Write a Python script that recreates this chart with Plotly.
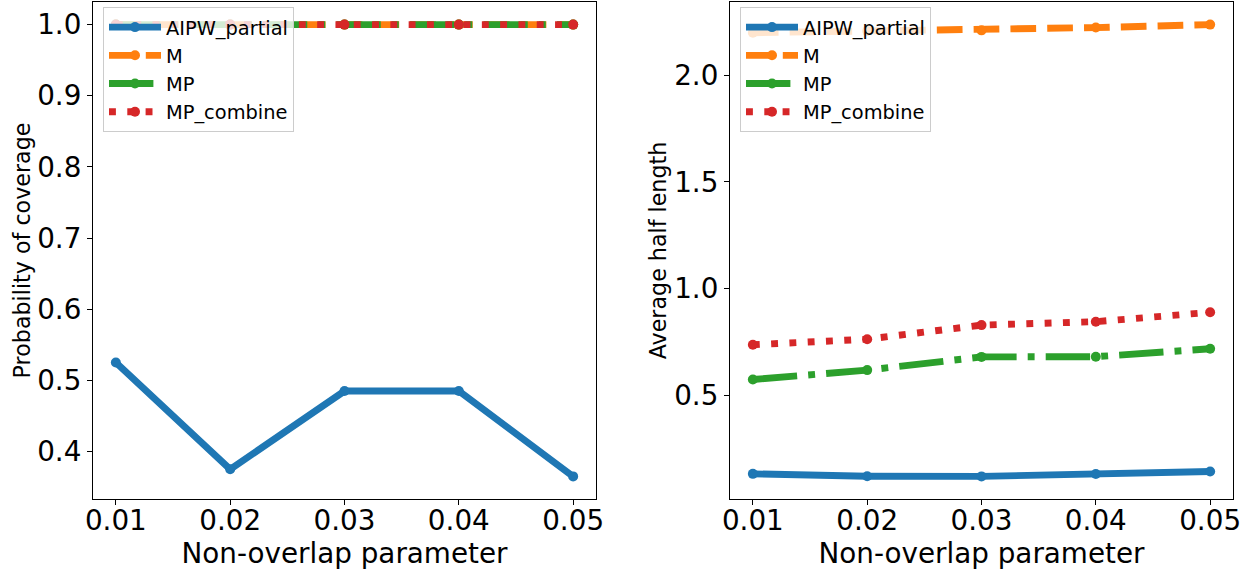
import plotly.graph_objects as go

# ---- data ----
x_vals = [0.01, 0.02, 0.03, 0.04, 0.05]
x_tick_labels = ["0.01", "0.02", "0.03", "0.04", "0.05"]
series_names = ["AIPW_partial", "M", "MP", "MP_combine"]

coverage_aipw = [0.525, 0.375, 0.485, 0.485, 0.365]
coverage_m = [1.0, 1.0, 1.0, 1.0, 1.0]
coverage_mp = [1.0, 1.0, 1.0, 1.0, 1.0]
coverage_mpc = [1.0, 1.0, 1.0, 1.0, 1.0]

length_aipw = [0.132, 0.121, 0.120, 0.131, 0.143]
length_m = [2.199, 2.207, 2.210, 2.223, 2.237]
length_mp = [0.574, 0.618, 0.680, 0.681, 0.718]
length_mpc = [0.737, 0.763, 0.829, 0.845, 0.889]

left_yticks = [0.4, 0.5, 0.6, 0.7, 0.8, 0.9, 1.0]
right_yticks = [0.5, 1.0, 1.5, 2.0]

# ---- styles ----
colors = ["#1f77b4", "#ff7f0e", "#2ca02c", "#d62728"]
LW = 6.9
dashes = ["solid", "25.7px,11.1px", "44.4px,11.1px,6.9px,11.1px", "6.9px,11.4px"]
FONT = "DejaVu Sans"
W, H = 1251, 571

def margin_range(*arrs):
    vals = [v for a in arrs for v in a]
    lo, hi = min(vals), max(vals)
    pad = (hi - lo) * 0.05
    return [lo - pad, hi + pad]

fig = go.Figure()
left_data = [coverage_aipw, coverage_m, coverage_mp, coverage_mpc]
right_data = [length_aipw, length_m, length_mp, length_mpc]

for i, name in enumerate(series_names):
    fig.add_trace(go.Scatter(
        x=x_vals, y=left_data[i], name=name, mode="lines+markers",
        line=dict(color=colors[i], width=LW, dash=dashes[i]),
        marker=dict(color=colors[i], size=10),
        xaxis="x", yaxis="y", legend="legend"))
for i, name in enumerate(series_names):
    fig.add_trace(go.Scatter(
        x=x_vals, y=right_data[i], name=name, mode="lines+markers",
        line=dict(color=colors[i], width=LW, dash=dashes[i]),
        marker=dict(color=colors[i], size=10),
        xaxis="x2", yaxis="y2", legend="legend2"))

xr = margin_range(x_vals)
ax_common = dict(showgrid=False, zeroline=False, showline=True, mirror=True,
                 automargin=False,
                 linecolor="black", linewidth=1.1, ticks="outside", ticklen=5,
                 tickwidth=1.1, tickcolor="black",
                 tickfont=dict(family=FONT, size=27.8, color="black"))

def xaxis(anchor, dom):
    return dict(ax_common, domain=dom, anchor=anchor, range=xr,
                tickvals=x_vals, ticktext=x_tick_labels,
                ticklabelstandoff=-8,
                title=dict(text="Non-overlap parameter",
                           font=dict(family=FONT, size=27.8, color="black"),
                           standoff=0))

ydom = [1 - 499 / H, 1 - 2 / H]
legend_common = dict(font=dict(family=FONT, size=19.4, color="black"),
                     bgcolor="rgba(255,255,255,0.8)", bordercolor="#cccccc",
                     borderwidth=1, xanchor="left", yanchor="top",
                     tracegroupgap=0, itemwidth=52)

fig.update_layout(
    width=W, height=H, margin=dict(l=0, r=0, t=0, b=0),
    paper_bgcolor="white", plot_bgcolor="white",
    font=dict(family=FONT, color="black"),
    xaxis=xaxis("y", [93 / W, 596 / W]),
    yaxis=dict(ax_common, domain=ydom, anchor="x",
               range=margin_range(*left_data), tickvals=left_yticks,
               tickformat=".1f",
               title=dict(text="Probability of coverage",
                          font=dict(family=FONT, size=22.2, color="black"),
                          standoff=0)),
    xaxis2=xaxis("y2", [730 / W, 1233 / W]),
    yaxis2=dict(ax_common, domain=ydom, anchor="x2",
                range=margin_range(*right_data), tickvals=right_yticks,
                tickformat=".1f",
                title=dict(text="Average half length",
                           font=dict(family=FONT, size=22.2, color="black"),
                           standoff=1)),
    legend=dict(legend_common, x=103 / W, y=1 - 7 / H),
    legend2=dict(legend_common, x=740 / W, y=1 - 7 / H),
)

fig.write_html("out.html")
